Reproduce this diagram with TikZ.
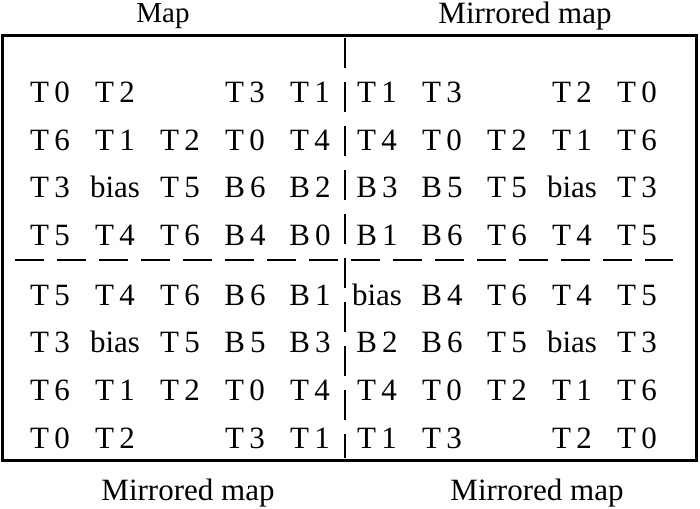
\documentclass[tikz,border=0pt]{standalone}
\usepackage{fontspec}
\setmainfont{Liberation Serif}

\newcommand{\maprow}[3]{%
  \foreach \t [count=\i] in {#3} {
    \pgfmathsetmacro{\cx}{50+65*(\i-1)+2*(\i>5)}
    \node[cell] (#1-\i) at (\cx,#2) {\t};
  }}

\begin{document}
\begin{tikzpicture}[x=0.5pt,y=-0.5pt,
    cell/.style={anchor=base,inner sep=0pt,font=\fontsize{15.5}{18}\selectfont},
    title/.style={inner sep=0pt,font=\fontsize{14.5}{17}\selectfont},
    mirtitle/.style={inner sep=0pt,font=\fontsize{15.5}{18}\selectfont},
    frame/.style={line width=1.5pt},
    cut/.style={line width=1.35pt,dash pattern=on 14.5pt off 6.5pt},
    vcut/.style={line width=1.35pt,dash pattern=on 15pt off 7pt}]
  \useasboundingbox (0,0) rectangle (700,508);
  \draw[frame] (2,36) rectangle (696,460);
  % the four maps
  \maprow{r1}{103}{T\,0,T\,2,{},T\,3,T\,1,T\,1,T\,3,{},T\,2,T\,0}
  \maprow{r2}{150}{T\,6,T\,1,T\,2,T\,0,T\,4,T\,4,T\,0,T\,2,T\,1,T\,6}
  \maprow{r3}{197}{T\,3,bias,T\,5,B\,6,B\,2,B\,3,B\,5,T\,5,bias,T\,3}
  \maprow{r4}{245}{T\,5,T\,4,T\,6,B\,4,B\,0,B\,1,B\,6,T\,6,T\,4,T\,5}
  \maprow{r5}{305}{T\,5,T\,4,T\,6,B\,6,B\,1,bias,B\,4,T\,6,T\,4,T\,5}
  \maprow{r6}{352}{T\,3,bias,T\,5,B\,5,B\,3,B\,2,B\,6,T\,5,bias,T\,3}
  \maprow{r7}{400}{T\,6,T\,1,T\,2,T\,0,T\,4,T\,4,T\,0,T\,2,T\,1,T\,6}
  \maprow{r8}{448}{T\,0,T\,2,{},T\,3,T\,1,T\,1,T\,3,{},T\,2,T\,0}
  % cut lines
  \coordinate (vtop) at (345,38);
  \coordinate (vbot) at (345,458);
  \coordinate (hleft) at (15,260);
  \coordinate (hright) at (673,260);
  \draw[vcut] (vtop) -- (vbot);
  \draw[cut] (hleft) -- (hright);
  % captions
  \node[title] (map) at (163,16) {Map};
  \node[mirtitle] (mirtop) at (525,16) {Mirrored map};
  \node[mirtitle] (mirleft) at (188,493) {Mirrored map};
  \node[mirtitle] (mirright) at (537,493) {Mirrored map};
\end{tikzpicture}
\end{document}
